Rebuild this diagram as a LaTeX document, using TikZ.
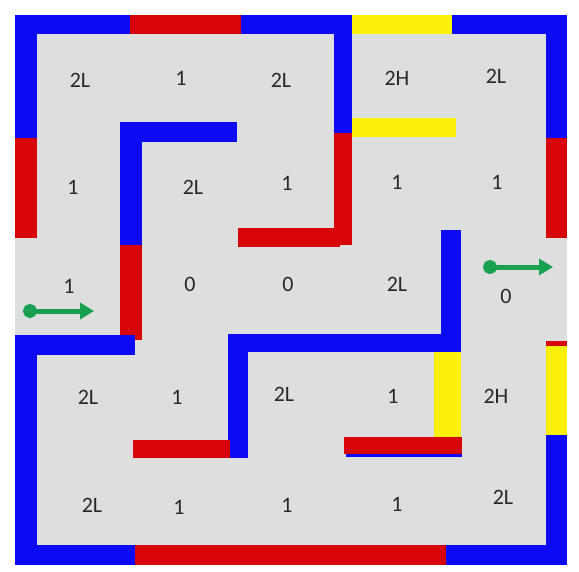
\documentclass[tikz,border=0pt]{standalone}
\usepackage{fontspec}
\setmainfont{Carlito}
\usetikzlibrary{arrows.meta}
\definecolor{mzbg}{RGB}{222,222,222}
\definecolor{mzblue}{RGB}{10,10,245}
\definecolor{mzred}{RGB}{215,5,10}
\definecolor{mzyellow}{RGB}{250,240,10}
\definecolor{mzgreen}{RGB}{25,160,80}
\definecolor{mztext}{RGB}{40,40,40}
\tikzset{
  bw/.style={fill=mzblue},
  rw/.style={fill=mzred},
  yw/.style={fill=mzyellow},
  lbl/.style={text=mztext,font=\fontsize{22}{22}\selectfont,inner sep=0pt},
  mover/.style={draw=mzgreen,line width=5pt,{Circle[length=14pt,width=14pt]}-{Triangle[length=14pt,width=16pt]}}
}
\begin{document}
\begin{tikzpicture}[x=1pt,y=-1pt]
\useasboundingbox (0,0) rectangle (579,571);
\fill[white] (0,0) rectangle (579,571);
\fill[mzbg] (15,15) rectangle (567,565);
% top wall
\fill[bw] (15,15) rectangle (130,34);
\fill[rw] (130,15) rectangle (241,34);
\fill[bw] (241,15) rectangle (352,34);
\fill[yw] (352,15) rectangle (452,34);
\fill[bw] (452,15) rectangle (567,34);
% left top wall
\fill[bw] (15,15) rectangle (37,138);
\fill[rw] (15,138) rectangle (37,238);
% right top wall
\fill[bw] (546,15) rectangle (567,138);
\fill[rw] (546,138) rectangle (567,238);
% middle vertical from top
\fill[bw] (334,15) rectangle (352,133);
\fill[rw] (334,133) rectangle (352,245);
\fill[rw] (238,228) rectangle (340,247);
\fill[yw] (352,118) rectangle (456,137);
% inner L top-left
\fill[bw] (120,122) rectangle (237,142);
\fill[bw] (120,122) rectangle (142,245);
\fill[rw] (120,245) rectangle (142,340);
% right middle vertical
\fill[bw] (441,230) rectangle (461,352);
\fill[yw] (434,350) rectangle (461,438);
\fill[bw] (228,334) rectangle (461,352);
\fill[bw] (228,334) rectangle (248,458);
\fill[rw] (133,440) rectangle (230,458);
\fill[mzblue] (346,446) rectangle (462,457);
\fill[rw] (344,437) rectangle (462,454);
% left lower wall
\fill[bw] (15,335) rectangle (135,355);
\fill[bw] (15,335) rectangle (37,565);
% bottom wall
\fill[bw] (15,545) rectangle (135,565);
\fill[rw] (135,545) rectangle (446,565);
\fill[bw] (446,545) rectangle (567,565);
% right lower wall
\fill[rw] (546,341) rectangle (567,346);
\fill[yw] (546,346) rectangle (567,435);
\fill[bw] (546,435) rectangle (567,565);
% labels
\node[lbl] (a11) at (80,80) {2L};
\node[lbl] (a12) at (181,78) {1};
\node[lbl] (a13) at (281,80) {2L};
\node[lbl] (a14) at (397,78) {2H};
\node[lbl] (a15) at (496,76) {2L};
\node[lbl] (a21) at (73,187) {1};
\node[lbl] (a22) at (193,187) {2L};
\node[lbl] (a23) at (287,183) {1};
\node[lbl] (a24) at (397,182) {1};
\node[lbl] (a25) at (497,182) {1};
\node[lbl] (a31) at (69,286) {1};
\node[lbl] (a32) at (190,284) {0};
\node[lbl] (a33) at (288,284) {0};
\node[lbl] (a34) at (397,284) {2L};
\node[lbl] (a35) at (506,296) {0};
\node[lbl] (a41) at (88,397) {2L};
\node[lbl] (a42) at (177,397) {1};
\node[lbl] (a43) at (284,394) {2L};
\node[lbl] (a44) at (393,396) {1};
\node[lbl] (a45) at (496,396) {2H};
\node[lbl] (a51) at (92,505) {2L};
\node[lbl] (a52) at (179,507) {1};
\node[lbl] (a53) at (287,505) {1};
\node[lbl] (a54) at (397,504) {1};
\node[lbl] (a55) at (503,497) {2L};
% entry / exit arrows
\coordinate (inS) at (23,311);
\coordinate (inE) at (94,311);
\coordinate (outS) at (483,267);
\coordinate (outE) at (553,267);
\draw[mover] (inS) -- (inE);
\draw[mover] (outS) -- (outE);
\end{tikzpicture}
\end{document}
